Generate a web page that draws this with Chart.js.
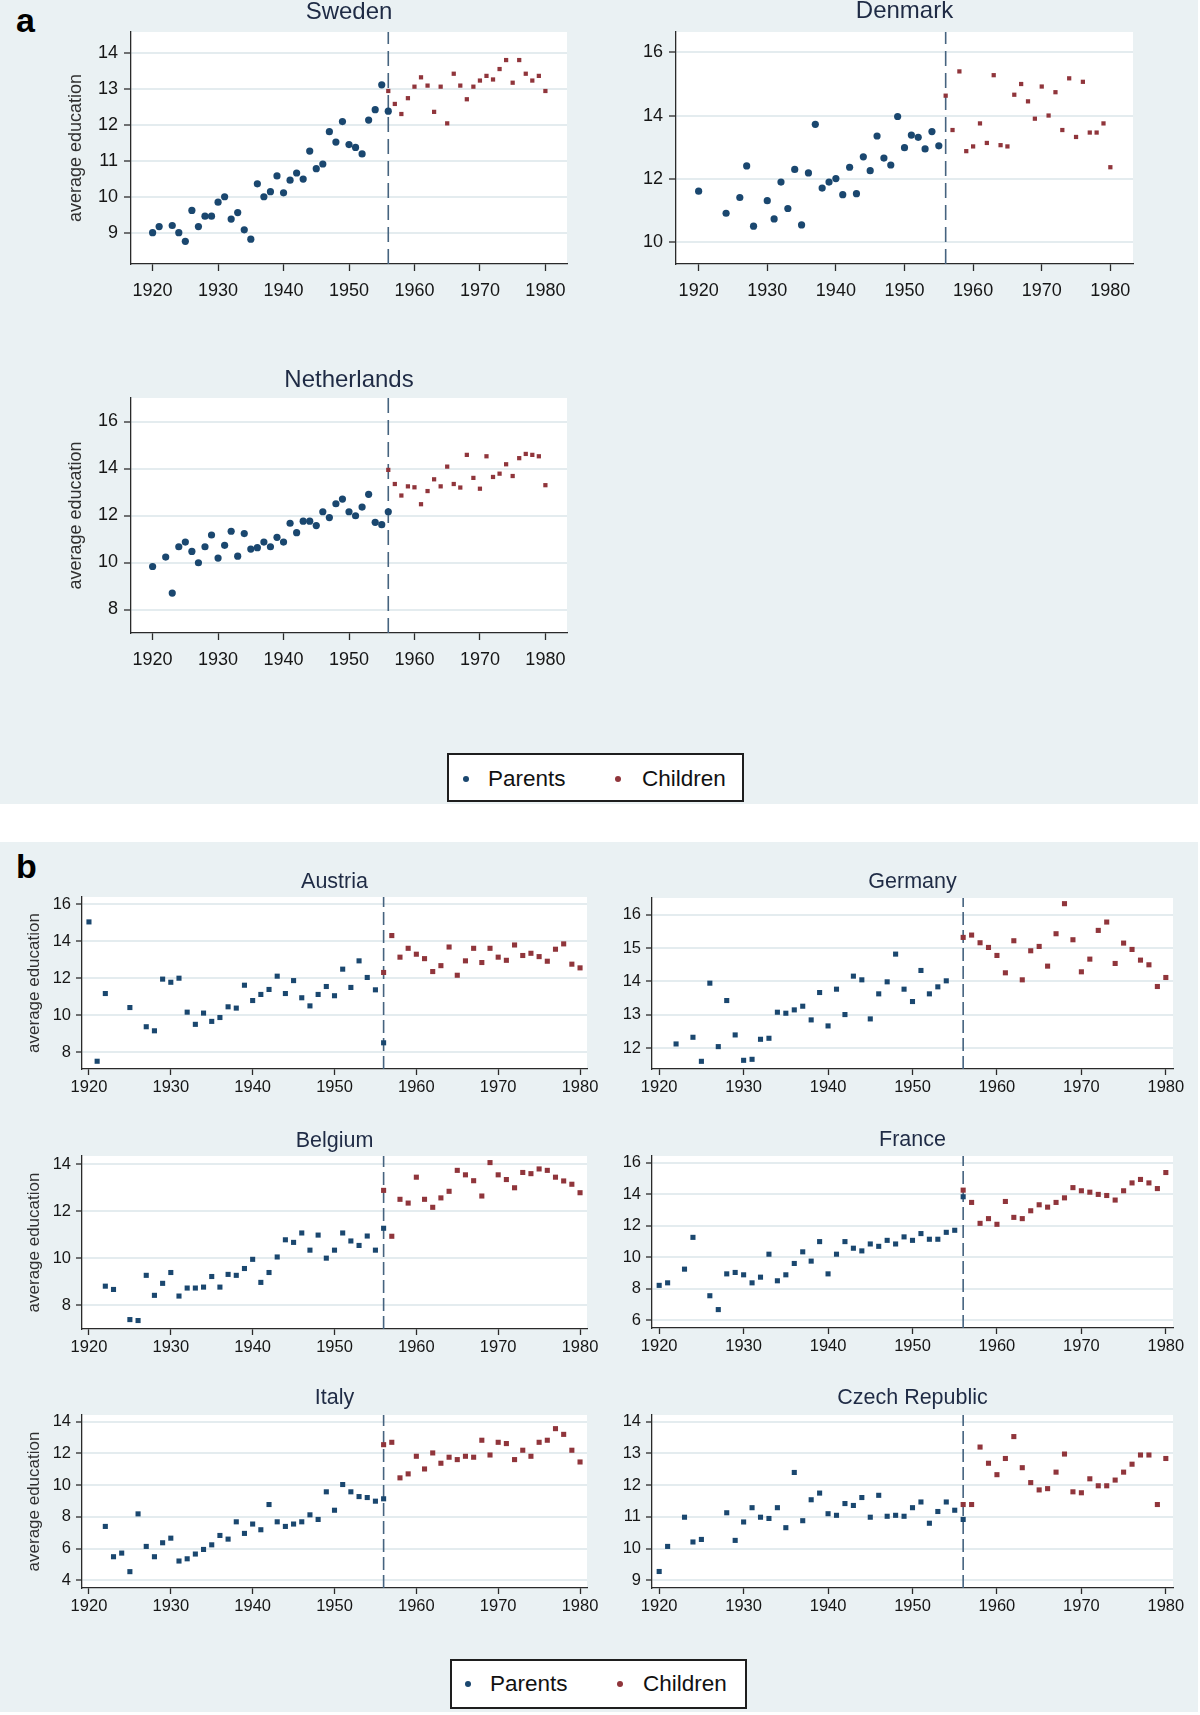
<!DOCTYPE html>
<html><head><meta charset="utf-8">
<script src="https://cdn.jsdelivr.net/npm/chart.js@4.4.1/dist/chart.umd.min.js"></script>
<style>
html,body{margin:0;padding:0;background:#fff;width:1200px;height:1715px;overflow:hidden;position:relative;font-family:"Liberation Sans",Arial,sans-serif;}
.panel{position:absolute;left:0;width:1198px;background:#eaf1f3;}
.lab{position:absolute;font-weight:bold;font-size:34px;line-height:1;color:#000;}
.legend{position:absolute;background:#fff;border:2px solid #1e1e1e;box-sizing:border-box;}
.dot{position:absolute;width:6px;height:6px;border-radius:50%;}
.txt{position:absolute;font-size:22.5px;line-height:1;color:#111;white-space:nowrap;}
canvas{position:absolute;}
</style></head><body>
<div class="panel" style="top:0;height:804px"></div>
<div class="panel" style="top:842px;height:870px"></div>
<div class="lab" style="left:16px;top:3px">a</div>
<div class="lab" style="left:16px;top:849px">b</div>

<div class="legend" style="left:447px;top:753px;width:297px;height:49px"></div>
<div class="dot" style="left:463px;top:776px;background:#1a476f"></div>
<div class="txt" id="la1" style="left:488px;top:768px"></div>
<div class="dot" style="left:615px;top:776px;background:#90353b"></div>
<div class="txt" id="la2" style="left:642px;top:768px"></div>

<div class="legend" style="left:450px;top:1659px;width:297px;height:50px"></div>
<div class="dot" style="left:465px;top:1681px;background:#1a476f"></div>
<div class="txt" id="lb1" style="left:490px;top:1673px"></div>
<div class="dot" style="left:617px;top:1681px;background:#90353b"></div>
<div class="txt" id="lb2" style="left:643px;top:1673px"></div>

<script>
// ---------------- DATA ----------------
const seriesNames = ['Parents', 'Children'];
const yAxisTitle = 'average education';
const xTicks = [1920, 1930, 1940, 1950, 1960, 1970, 1980];
const cutoffYear = 1956;

const swedenParentYears = [1920,1921,1923,1924,1925,1926,1927,1928,1929,1930,1931,1932,1933,1934,1935,1936,1937,1938,1939,1940,1941,1942,1943,1944,1945,1946,1947,1948,1949,1950,1951,1952,1953,1954,1955,1956];
const swedenParentEdu = [9.0,9.17,9.2,9.0,8.76,9.62,9.17,9.46,9.46,9.85,10.0,9.38,9.56,9.08,8.82,10.36,10.0,10.14,10.58,10.11,10.46,10.66,10.49,11.27,10.78,10.91,11.81,11.52,12.09,11.45,11.37,11.19,12.13,12.42,13.11,12.38];
const swedenChildYears = [1956,1957,1958,1959,1960,1961,1962,1963,1964,1965,1966,1967,1968,1969,1970,1971,1972,1973,1974,1975,1976,1977,1978,1979,1980];
const swedenChildEdu = [12.94,12.58,12.30,12.74,13.06,13.32,13.09,12.36,13.06,12.04,13.42,13.09,12.71,13.06,13.23,13.36,13.26,13.55,13.80,13.17,13.80,13.42,13.23,13.36,12.94];
const swedenYTicks = [9,10,11,12,13,14];

const denmarkParentYears = [1920,1924,1926,1927,1928,1930,1931,1932,1933,1934,1935,1936,1937,1938,1939,1940,1941,1942,1943,1944,1945,1946,1947,1948,1949,1950,1951,1952,1953,1954,1955];
const denmarkParentEdu = [11.60,10.90,11.40,12.40,10.49,11.30,10.72,11.89,11.05,12.29,10.53,12.18,13.72,11.70,11.89,12.0,11.49,12.36,11.52,12.69,12.25,13.35,12.65,12.43,13.97,12.98,13.38,13.31,12.94,13.49,13.04];
const denmarkChildYears = [1956,1957,1958,1959,1960,1961,1962,1963,1964,1965,1966,1967,1968,1969,1970,1971,1972,1973,1974,1975,1976,1977,1978,1979,1980];
const denmarkChildEdu = [14.63,13.54,15.40,12.87,13.02,13.75,13.13,15.28,13.06,13.02,14.66,15.0,14.45,13.90,14.92,14.0,14.74,13.54,15.18,13.32,15.07,13.46,13.46,13.75,12.36];
const denmarkYTicks = [10,12,14,16];

const netherlandsParentYears = [1920,1922,1923,1924,1925,1926,1927,1928,1929,1930,1931,1932,1933,1934,1935,1936,1937,1938,1939,1940,1941,1942,1943,1944,1945,1946,1947,1948,1949,1950,1951,1952,1953,1954,1955,1956];
const netherlandsParentEdu = [9.83,10.23,8.70,10.67,10.87,10.47,9.99,10.67,11.17,10.19,10.73,11.33,10.27,11.23,10.57,10.63,10.87,10.67,11.07,10.87,11.67,11.27,11.76,11.76,11.57,12.16,11.91,12.50,12.70,12.16,11.99,12.36,12.90,11.71,11.61,12.16];
const netherlandsChildYears = [1956,1957,1958,1959,1960,1961,1962,1963,1964,1965,1966,1967,1968,1969,1970,1971,1972,1973,1974,1975,1976,1977,1978,1979,1980];
const netherlandsChildEdu = [13.94,13.34,12.85,13.24,13.20,12.48,13.04,13.54,13.24,14.08,13.34,13.19,14.58,13.60,13.14,14.52,13.64,13.78,14.18,13.68,14.44,14.62,14.58,14.52,13.29];
const netherlandsYTicks = [8,10,12,14,16];

const austriaParentYears = [1920,1921,1922,1925,1927,1928,1929,1930,1931,1932,1933,1934,1935,1936,1937,1938,1939,1940,1941,1942,1943,1944,1945,1946,1947,1948,1949,1950,1951,1952,1953,1954,1955,1956];
const austriaParentEdu = [15.05,7.50,11.17,10.41,9.37,9.15,11.95,11.78,12.0,10.16,9.50,10.11,9.66,9.87,10.45,10.38,11.62,10.79,11.12,11.39,12.11,11.17,11.87,10.94,10.50,11.12,11.55,11.05,12.49,11.50,12.94,12.04,11.37,8.50];
const austriaChildYears = [1956,1957,1958,1959,1960,1961,1962,1963,1964,1965,1966,1967,1968,1969,1970,1971,1972,1973,1974,1975,1976,1977,1978,1979,1980];
const austriaChildEdu = [12.31,14.31,13.14,13.62,13.30,13.06,12.36,12.68,13.69,12.16,12.94,13.62,12.85,13.62,13.14,12.97,13.80,13.23,13.35,13.17,12.92,13.57,13.86,12.76,12.56];
const austriaYTicks = [8,10,12,14,16];

const germanyParentYears = [1922,1924,1925,1926,1927,1928,1929,1930,1931,1932,1933,1934,1935,1936,1937,1938,1939,1940,1941,1942,1943,1944,1945,1946,1947,1948,1949,1950,1951,1952,1953,1954];
const germanyParentEdu = [12.13,12.33,11.61,13.95,12.05,13.43,12.40,11.64,11.67,12.27,12.30,13.08,13.05,13.15,13.26,12.85,13.67,12.67,13.77,13.01,14.16,14.05,12.88,13.63,13.99,14.82,13.77,13.40,14.33,13.63,13.84,14.02];
const germanyChildYears = [1956,1957,1958,1959,1960,1961,1962,1963,1964,1965,1966,1967,1968,1969,1970,1971,1972,1973,1974,1975,1976,1977,1978,1979,1980];
const germanyChildEdu = [15.32,15.39,15.16,15.02,14.78,14.26,15.22,14.05,14.92,15.05,14.46,15.43,16.33,15.25,14.29,14.67,15.53,15.78,14.54,15.15,14.96,14.64,14.50,13.85,14.12];
const germanyYTicks = [12,13,14,15,16];

const belgiumParentYears = [1922,1923,1925,1926,1927,1928,1929,1930,1931,1932,1933,1934,1935,1936,1937,1938,1939,1940,1941,1942,1943,1944,1945,1946,1947,1948,1949,1950,1951,1952,1953,1954,1955,1956];
const belgiumParentEdu = [8.82,8.68,7.40,7.36,9.28,8.43,8.94,9.40,8.40,8.74,8.74,8.78,9.23,8.78,9.32,9.28,9.57,9.96,8.98,9.40,10.06,10.79,10.68,11.08,10.35,10.99,10.01,10.35,11.08,10.74,10.55,10.95,10.35,11.28];
const belgiumChildYears = [1956,1957,1958,1959,1960,1961,1962,1963,1964,1965,1966,1967,1968,1969,1970,1971,1972,1973,1974,1975,1976,1977,1978,1979,1980];
const belgiumChildEdu = [12.89,10.94,12.51,12.35,13.45,12.51,12.17,12.57,12.85,13.74,13.55,13.30,12.65,14.07,13.55,13.35,13.0,13.65,13.60,13.80,13.74,13.45,13.29,13.15,12.79];
const belgiumYTicks = [8,10,12,14];

const franceParentYears = [1920,1921,1923,1924,1926,1927,1928,1929,1930,1931,1932,1933,1934,1935,1936,1937,1938,1939,1940,1941,1942,1943,1944,1945,1946,1947,1948,1949,1950,1951,1952,1953,1954,1955,1956];
const franceParentEdu = [8.22,8.38,9.25,11.27,7.56,6.68,8.95,9.04,8.89,8.38,8.74,10.20,8.51,8.89,9.61,10.35,9.76,11.0,8.95,10.20,11.0,10.58,10.41,10.85,10.70,11.08,10.85,11.30,11.08,11.51,11.15,11.15,11.59,11.72,13.85];
const franceChildYears = [1956,1957,1958,1959,1960,1961,1962,1963,1964,1965,1966,1967,1968,1969,1970,1971,1972,1973,1974,1975,1976,1977,1978,1979,1980];
const franceChildEdu = [14.27,13.49,12.16,12.46,12.10,13.55,12.54,12.46,12.96,13.34,13.19,13.49,13.78,14.43,14.23,14.14,14.0,13.93,13.64,14.23,14.73,14.95,14.73,14.37,15.39];
const franceYTicks = [6,8,10,12,14,16];

const italyParentYears = [1922,1923,1924,1925,1926,1927,1928,1929,1930,1931,1932,1933,1934,1935,1936,1937,1938,1939,1940,1941,1942,1943,1944,1945,1946,1947,1948,1949,1950,1951,1952,1953,1954,1955,1956];
const italyParentEdu = [7.40,5.49,5.72,4.55,8.19,6.14,5.49,6.37,6.66,5.22,5.36,5.66,5.95,6.24,6.83,6.60,7.69,6.96,7.55,7.19,8.78,7.69,7.40,7.55,7.69,8.13,7.84,9.58,8.42,10.04,9.58,9.28,9.22,8.99,9.14];
const italyChildYears = [1956,1957,1958,1959,1960,1961,1962,1963,1964,1965,1966,1967,1968,1969,1970,1971,1972,1973,1974,1975,1976,1977,1978,1979,1980];
const italyChildEdu = [12.55,12.70,10.46,10.71,11.82,11.02,12.03,11.38,11.76,11.61,11.82,11.76,12.83,11.90,12.70,12.62,11.61,12.20,11.82,12.70,12.83,13.56,13.20,12.20,11.46];
const italyYTicks = [4,6,8,10,12,14];

const czechParentYears = [1920,1921,1923,1924,1925,1928,1929,1930,1931,1932,1933,1934,1935,1936,1937,1938,1939,1940,1941,1942,1943,1944,1945,1946,1947,1948,1949,1950,1951,1952,1953,1954,1955,1956];
const czechParentEdu = [9.28,10.07,10.99,10.21,10.29,11.13,10.26,10.84,11.29,10.99,10.95,11.29,10.66,12.40,10.88,11.54,11.75,11.10,11.05,11.42,11.36,11.61,10.99,11.68,11.02,11.05,11.02,11.29,11.47,10.80,11.17,11.47,11.21,10.92];
const czechChildYears = [1956,1957,1958,1959,1960,1961,1962,1963,1964,1965,1966,1967,1968,1969,1970,1971,1972,1973,1974,1975,1976,1977,1978,1979,1980];
const czechChildEdu = [11.39,11.39,13.20,12.69,12.33,12.84,13.53,12.55,12.08,11.85,11.89,12.41,12.98,11.79,11.76,12.20,11.98,11.98,12.16,12.41,12.66,12.95,12.95,11.39,12.84];
const czechYTicks = [9,10,11,12,13,14];

// ---------------- STYLE / LAYOUT ----------------
const FONT = '"Liberation Sans", Arial, sans-serif';
const PARENT = '#1a476f', CHILD = '#90353b', AXIS = '#2a2a2a', GRID = '#e4ecef';
const TITLEC = '#1f2b45', TICKC = '#161616', YTC = '#303030', CUTC = '#46637f';

const styleA = {titleSize:24, tickSize:18, yTitleSize:18, yTitleX:76.5, padLTitle:80, padLNo:60, padB:50,
  tickLen:7, xTickPad:9, yTickPad:6, xMin:1916.7, xMax:1983.3, parentStyle:'circle', parentR:3.6, childR:3.0, dash:[15,7]};
const styleB = {titleSize:21.5, tickSize:16.5, yTitleSize:17, yTitleX:34, padLTitle:66, padLNo:60, padB:32,
  tickLen:6, xTickPad:3, yTickPad:5, xMin:1919.15, xMax:1980.85, parentStyle:'rect', parentR:3.6, childR:3.6, dash:[13,5]};

const charts = [
  {name:'Sweden', py:swedenParentYears, pv:swedenParentEdu, cy:swedenChildYears, cv:swedenChildEdu, yTicks:swedenYTicks, yMin:8.13, yMax:14.58, L:131,T:32,R:567,B:264, titleY:12, yTitle:true, st:styleA},
  {name:'Denmark', py:denmarkParentYears, pv:denmarkParentEdu, cy:denmarkChildYears, cv:denmarkChildEdu, yTicks:denmarkYTicks, yMin:9.29, yMax:16.65, L:676,T:32,R:1133,B:264, titleY:11, yTitle:false, st:styleA},
  {name:'Netherlands', py:netherlandsParentYears, pv:netherlandsParentEdu, cy:netherlandsChildYears, cv:netherlandsChildEdu, yTicks:netherlandsYTicks, yMin:7.0, yMax:17.0, L:131,T:398,R:567,B:633, titleY:380, yTitle:true, st:styleA},
  {name:'Austria', py:austriaParentYears, pv:austriaParentEdu, cy:austriaChildYears, cv:austriaChildEdu, yTicks:austriaYTicks, yMin:7.08, yMax:16.40, L:82,T:897,R:587,B:1069, titleY:882.5, yTitle:true, st:styleB},
  {name:'Germany', py:germanyParentYears, pv:germanyParentEdu, cy:germanyChildYears, cv:germanyChildEdu, yTicks:germanyYTicks, yMin:11.38, yMax:16.50, L:652,T:898,R:1173,B:1069, titleY:882.3, yTitle:false, st:styleB},
  {name:'Belgium', py:belgiumParentYears, pv:belgiumParentEdu, cy:belgiumChildYears, cv:belgiumChildEdu, yTicks:belgiumYTicks, yMin:7.0, yMax:14.35, L:82,T:1156,R:587,B:1329, titleY:1140.7, yTitle:true, st:styleB},
  {name:'France', py:franceParentYears, pv:franceParentEdu, cy:franceChildYears, cv:franceChildEdu, yTicks:franceYTicks, yMin:5.51, yMax:16.44, L:652,T:1156,R:1173,B:1328, titleY:1140, yTitle:false, st:styleB},
  {name:'Italy', py:italyParentYears, pv:italyParentEdu, cy:italyChildYears, cv:italyChildEdu, yTicks:italyYTicks, yMin:3.52, yMax:14.42, L:82,T:1415,R:587,B:1588, titleY:1398.3, yTitle:true, st:styleB},
  {name:'Czech Republic', py:czechParentYears, pv:czechParentEdu, cy:czechChildYears, cv:czechChildEdu, yTicks:czechYTicks, yMin:8.76, yMax:14.21, L:652,T:1415,R:1173,B:1588, titleY:1398.3, yTitle:false, st:styleB}
];

document.getElementById('la1').textContent = seriesNames[0];
document.getElementById('la2').textContent = seriesNames[1];
document.getElementById('lb1').textContent = seriesNames[0];
document.getElementById('lb2').textContent = seriesNames[1];

const whiteArea = {id:'whiteArea', beforeDraw(chart){
  const {ctx, chartArea:a} = chart;
  ctx.save(); ctx.fillStyle = '#ffffff';
  ctx.fillRect(a.left, a.top, a.right - a.left, a.bottom - a.top);
  ctx.restore();
}};

function build(p){
  const st = p.st;
  const padL = p.yTitle ? st.padLTitle : st.padLNo;
  const CL = p.L - padL;
  const CT = Math.min(p.T - 30, Math.floor(p.titleY - st.titleSize/2));
  const tpt = p.titleY - CT - st.titleSize/2;
  const tpb = p.T - CT - st.titleSize - tpt;
  const W = (p.R - p.L) + 2*padL;
  const H = (p.T - CT) + (p.B - p.T) + st.padB;
  const cv = document.createElement('canvas');
  cv.width = W; cv.height = H;
  cv.style.left = CL + 'px'; cv.style.top = CT + 'px';
  cv.style.width = W + 'px'; cv.style.height = H + 'px';
  document.body.appendChild(cv);
  new Chart(cv, {
    data: {datasets: [
      {type:'scatter', label:seriesNames[0], data:p.py.map((x,i)=>({x:x, y:p.pv[i]})),
       pointStyle:st.parentStyle, pointRadius:st.parentR, backgroundColor:PARENT, borderColor:PARENT, borderWidth:0, order:1},
      {type:'scatter', label:seriesNames[1], data:p.cy.map((x,i)=>({x:x, y:p.cv[i]})),
       pointStyle:'rect', pointRadius:st.childR, backgroundColor:CHILD, borderColor:CHILD, borderWidth:0, order:0},
      {type:'line', label:'cutoff', data:[{x:cutoffYear, y:p.yMin}, {x:cutoffYear, y:p.yMax}],
       borderColor:CUTC, borderWidth:1.6, borderDash:st.dash, pointRadius:0, fill:false, order:2}
    ]},
    options: {
      responsive:false, animation:false, devicePixelRatio:1,
      layout:{padding:{left:0, right:padL, top:0, bottom:0}},
      plugins:{
        legend:{display:false}, tooltip:{enabled:false},
        title:{display:true, fullSize:false, text:p.name, color:TITLEC,
          font:{family:FONT, size:st.titleSize, weight:'normal', lineHeight:1},
          padding:{top:tpt, bottom:tpb}}
      },
      scales:{
        x:{type:'linear', position:'bottom', min:st.xMin, max:st.xMax,
          afterBuildTicks:s=>{s.ticks = xTicks.map(v=>({value:v}));},
          afterFit:s=>{s.height = st.padB; s.paddingLeft = 0; s.paddingRight = 0;},
          grid:{display:true, drawOnChartArea:false, drawTicks:true, tickLength:st.tickLen, tickColor:AXIS, tickWidth:1.3},
          border:{display:true, color:AXIS, width:1.3},
          ticks:{color:TICKC, font:{family:FONT, size:st.tickSize}, padding:st.xTickPad, maxRotation:0, autoSkip:false, callback:v=>String(v)}},
        y:{type:'linear', position:'left', min:p.yMin, max:p.yMax,
          afterBuildTicks:s=>{s.ticks = p.yTicks.map(v=>({value:v}));},
          afterFit:s=>{s.width = padL; s.paddingTop = 0; s.paddingBottom = 0;},
          grid:{display:true, drawOnChartArea:true, color:GRID, lineWidth:2, drawTicks:true, tickLength:st.tickLen, tickColor:AXIS, tickWidth:1.3},
          border:{display:true, color:AXIS, width:1.3},
          ticks:{color:TICKC, font:{family:FONT, size:st.tickSize}, padding:st.yTickPad, autoSkip:false, callback:v=>String(v)},
          title:{display:p.yTitle, text:yAxisTitle, color:YTC,
            font:{family:FONT, size:st.yTitleSize, lineHeight:1},
            padding:{top:st.yTitleX - CL - st.yTitleSize/2, bottom:0}}}
      }
    },
    plugins:[whiteArea]
  });
}
charts.forEach(build);
</script>
</body></html>
